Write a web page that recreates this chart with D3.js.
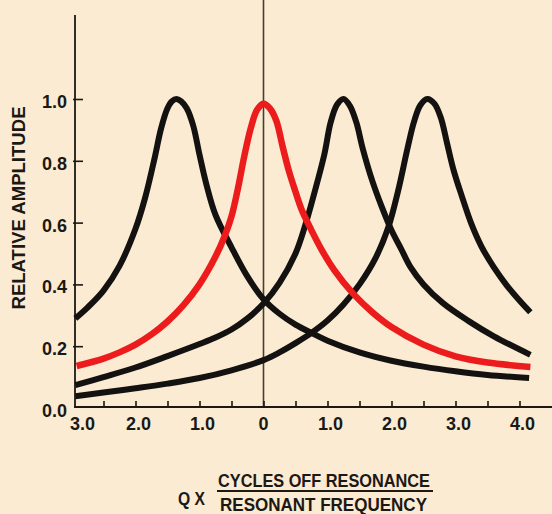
<!DOCTYPE html>
<html>
<head>
<meta charset="utf-8">
<script src="https://cdn.jsdelivr.net/npm/d3@7"></script>
<style>
  html, body { margin: 0; padding: 0; background: #fbebd3; }
  svg { display: block; }
  text { font-family: "Liberation Sans", Arial, sans-serif; font-weight: bold; fill: #1c1814; }
</style>
</head>
<body>
<svg id="chart" width="552" height="514"></svg>
<script>
// ---- data ----
// black curve peaking near -1.36
const curve1U = [-2.94,-2.75,-2.5,-2.25,-2.0,-1.85,-1.7,-1.6,-1.5,-1.43,-1.36,-1.29,-1.2,-1.1,-1.0,-0.9,-0.75,-0.5,-0.25,0,0.25,0.5,0.75,1.0,1.5,2.0,2.5,3.0,3.5,4.15];
const curve1V = [0.29,0.325,0.38,0.46,0.58,0.68,0.81,0.905,0.97,0.993,1.0,0.993,0.97,0.915,0.82,0.73,0.625,0.52,0.425,0.352,0.305,0.27,0.243,0.218,0.18,0.153,0.134,0.119,0.107,0.097];
// red curve peaking at 0
const curve2U = [-2.92,-2.5,-2.25,-2.0,-1.75,-1.5,-1.25,-1.0,-0.75,-0.6,-0.5,-0.4,-0.3,-0.2,-0.1,0,0.1,0.2,0.3,0.4,0.5,0.6,0.75,0.9,1.1,1.4,1.7,2.0,2.5,3.0,3.5,4.17];
const curve2V = [0.136,0.16,0.18,0.205,0.238,0.28,0.333,0.40,0.49,0.56,0.62,0.71,0.815,0.905,0.965,0.985,0.97,0.93,0.845,0.765,0.70,0.64,0.575,0.515,0.448,0.37,0.31,0.262,0.205,0.167,0.147,0.133];
// black curve peaking near 1.25
const curve3U = [-2.94,-2.5,-2.0,-1.5,-1.0,-0.75,-0.5,-0.25,0,0.25,0.5,0.65,0.8,0.95,1.05,1.15,1.25,1.35,1.45,1.55,1.7,1.85,2.0,2.15,2.3,2.5,2.8,3.2,3.6,4.17];
const curve3V = [0.074,0.100,0.131,0.168,0.207,0.228,0.254,0.29,0.338,0.405,0.50,0.59,0.70,0.82,0.925,0.982,1.0,0.978,0.925,0.84,0.735,0.65,0.575,0.515,0.455,0.40,0.34,0.282,0.232,0.172];
// black curve peaking near 2.56
const curve4U = [-2.94,-2.5,-2.0,-1.5,-1.0,-0.5,0,0.25,0.5,0.75,1.0,1.25,1.5,1.75,1.95,2.1,2.25,2.35,2.45,2.56,2.67,2.77,2.87,2.97,3.1,3.25,3.4,3.6,3.8,4.0,4.17];
const curve4V = [0.038,0.05,0.064,0.079,0.097,0.122,0.155,0.18,0.21,0.243,0.283,0.335,0.40,0.485,0.585,0.70,0.84,0.925,0.98,1.0,0.985,0.94,0.855,0.77,0.685,0.595,0.525,0.455,0.397,0.348,0.31];

const xTickValues = [-2.5,-2,-1.5,-1,-0.5,0,0.5,1,1.5,2,2.5,3,3.5,4];
const xLabelValues = [-3,-2,-1,0,1,2,3,4];
const xLabelTexts = ["3.0","2.0","1.0","0","1.0","2.0","3.0","4.0"];
const yTickValues = [0,0.2,0.4,0.6,0.8,1.0];
const yTickTexts = ["0.0","0.2","0.4","0.6","0.8","1.0"];

// ---- scales ----
const svg = d3.select("#chart");
const x = d3.scaleLinear().domain([-3, 4]).range([71.5, 519.5]);
const y = d3.scaleLinear().domain([0, 1]).range([408, 99]);
const axisX = 75, axisY = 407;
const ink = "#1c1814";

// zero reference line
svg.append("line")
  .attr("x1", x(0)).attr("x2", x(0)).attr("y1", 0).attr("y2", axisY)
  .attr("stroke", "#4a3c30").attr("stroke-width", 1.6);

// y axis
const yAxis = d3.axisLeft(y).tickValues(yTickValues.slice(1)).tickSizeInner(-8).tickSizeOuter(0).tickFormat("");
const gy = svg.append("g").attr("transform", `translate(${axisX},0)`).call(yAxis);
gy.select(".domain").remove();
gy.selectAll(".tick line").attr("stroke", ink).attr("stroke-width", 1.6).attr("x1", -2);
svg.append("line").attr("x1", axisX).attr("x2", axisX).attr("y1", 15).attr("y2", axisY + 1)
  .attr("stroke", ink).attr("stroke-width", 1.8);
svg.append("g").selectAll("text").data(yTickValues).join("text")
  .attr("x", 67).attr("y", d => y(d) + 9)
  .attr("text-anchor", "end").style("font-size", "18px")
  .text((d, i) => yTickTexts[i]);

// x axis
const xAxis = d3.axisBottom(x).tickValues(xTickValues).tickSizeInner(-6).tickSizeOuter(0).tickFormat("");
const gx = svg.append("g").attr("transform", `translate(0,${axisY})`).call(xAxis);
gx.select(".domain").remove();
gx.selectAll(".tick line").attr("stroke", ink).attr("stroke-width", 1.6);
svg.append("line").attr("x1", axisX - 1).attr("x2", 552).attr("y1", axisY).attr("y2", axisY)
  .attr("stroke", ink).attr("stroke-width", 2);
svg.append("g").selectAll("text").data(xLabelValues).join("text")
  .attr("x", (d, i) => x(d) + (i === 0 ? 11 : (d === 0 ? 0 : 3)))
  .attr("y", 430)
  .attr("text-anchor", "middle").style("font-size", "18px")
  .text((d, i) => xLabelTexts[i]);

// axis titles
svg.append("text")
  .attr("transform", "translate(25,208) rotate(-90)")
  .attr("text-anchor", "middle").style("font-size", "18px")
  .attr("textLength", 203).attr("lengthAdjust", "spacingAndGlyphs")
  .text("RELATIVE AMPLITUDE");
svg.append("text").attr("x", 178).attr("y", 505).style("font-size", "18px")
  .attr("textLength", 27).attr("lengthAdjust", "spacingAndGlyphs").text("Q X");
svg.append("text").attr("x", 218).attr("y", 487).style("font-size", "19px")
  .attr("textLength", 212).attr("lengthAdjust", "spacingAndGlyphs").text("CYCLES OFF RESONANCE");
svg.append("line").attr("x1", 217).attr("x2", 433).attr("y1", 491).attr("y2", 491)
  .attr("stroke", ink).attr("stroke-width", 2);
svg.append("text").attr("x", 220).attr("y", 511).style("font-size", "19px")
  .attr("textLength", 207).attr("lengthAdjust", "spacingAndGlyphs").text("RESONANT FREQUENCY");

// curves
const line = d3.line().x(d => x(d[0])).y(d => y(d[1])).curve(d3.curveCatmullRom.alpha(0.5));
const series = [
  { u: curve1U, v: curve1V, color: "#141210", w: 6 },
  { u: curve3U, v: curve3V, color: "#141210", w: 6 },
  { u: curve4U, v: curve4V, color: "#141210", w: 6 },
  { u: curve2U, v: curve2V, color: "#ec1c1c", w: 6.5 }
];
svg.append("g").selectAll("path").data(series).join("path")
  .attr("d", s => line(s.u.map((u, i) => [u, s.v[i]])))
  .attr("fill", "none")
  .attr("stroke", s => s.color)
  .attr("stroke-width", s => s.w)
  .attr("stroke-linejoin", "round");
</script>
</body>
</html>
